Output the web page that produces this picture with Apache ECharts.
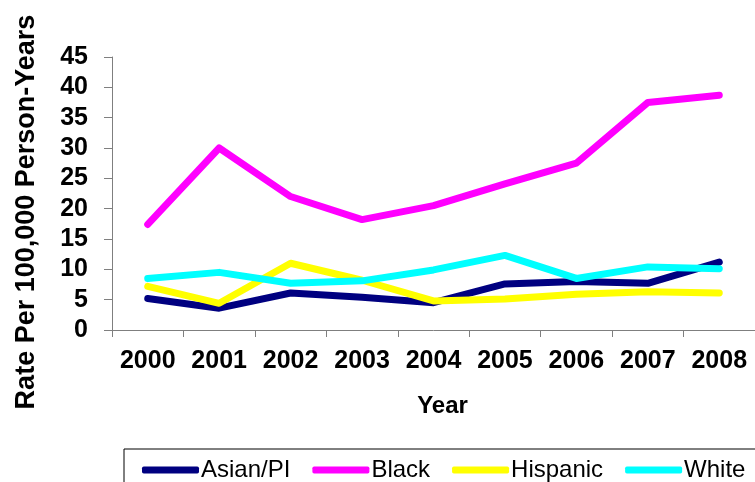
<!DOCTYPE html>
<html>
<head>
<meta charset="utf-8">
<script src="https://cdn.jsdelivr.net/npm/echarts@6/dist/echarts.min.js"></script>
<style>
  html, body { margin: 0; padding: 0; background: #fff; }
  #chart { width: 755px; height: 482px; }
</style>
</head>
<body>
<div id="chart"></div>
<script>
// Rates per 100,000 person-years, by year and race/ethnicity
const years = ['2000', '2001', '2002', '2003', '2004', '2005', '2006', '2007', '2008'];
const asianPI  = [5.2, 3.6, 6.1, 5.4, 4.5, 7.6, 8.0, 7.7, 11.2];
const black    = [17.4, 30.0, 22.0, 18.2, 20.5, 24.1, 27.5, 37.5, 38.7];
const hispanic = [7.2, 4.4, 11.0, 8.2, 4.8, 5.1, 5.9, 6.3, 6.1];
const white    = [8.5, 9.5, 7.7, 8.1, 9.9, 12.3, 8.5, 10.4, 10.1];
const yTicks = { min: 0, max: 45, step: 5 };

const FONT = 'Liberation Sans, Arial, sans-serif';

function lineSeries(name, data, color) {
  return {
    name: name,
    type: 'line',
    data: data,
    symbol: 'none',
    lineStyle: { color: color, width: 7, cap: 'round', join: 'round' },
    itemStyle: { color: color }
  };
}

const chart = echarts.init(document.getElementById('chart'), null, { renderer: 'canvas' });
chart.setOption({
  animation: false,
  backgroundColor: '#ffffff',
  grid: { left: 112, top: 57, width: 649, height: 273, containLabel: false },
  xAxis: {
    type: 'category',
    data: years,
    boundaryGap: true,
    name: 'Year',
    nameLocation: 'middle',
    nameGap: 64,
    nameTextStyle: { fontFamily: FONT, fontWeight: 'bold', fontSize: 24, color: '#000', padding: [0, 0, 0, 18] },
    axisLine: { lineStyle: { color: '#7f7f7f', width: 1 } },
    axisTick: { show: true, alignWithLabel: false, interval: 0, length: 7, lineStyle: { color: '#7f7f7f' } },
    axisLabel: { interval: 0, fontFamily: FONT, fontWeight: 'bold', fontSize: 25, color: '#000', margin: 19 },
    splitLine: { show: false }
  },
  yAxis: {
    type: 'value',
    min: yTicks.min,
    max: yTicks.max,
    interval: yTicks.step,
    name: 'Rate Per 100,000 Person-Years',
    nameLocation: 'middle',
    nameGap: 72,
    nameTextStyle: { fontFamily: FONT, fontWeight: 'bold', fontSize: 27, color: '#000', padding: [0, 37, 0, 0] },
    axisLine: { show: true, lineStyle: { color: '#7f7f7f', width: 1 } },
    axisTick: { show: true, length: 8, lineStyle: { color: '#7f7f7f' } },
    axisLabel: { fontFamily: FONT, fontWeight: 'bold', fontSize: 25, color: '#000', margin: 24 },
    splitLine: { show: false }
  },
  legend: {
    left: 124,
    top: 449,
    width: 800,
    padding: [9, 40, 12, 18],
    borderColor: '#000',
    borderWidth: 1,
    itemWidth: 57,
    itemHeight: 7,
    itemGap: 22,
    icon: 'roundRect',
    textStyle: { fontFamily: FONT, fontSize: 24, color: '#000', padding: [0, 0, 0, -3] },
    data: ['Asian/PI', 'Black', 'Hispanic', 'White']
  },
  series: [
    lineSeries('Asian/PI', asianPI, '#000080'),
    lineSeries('Black', black, '#ff00ff'),
    lineSeries('Hispanic', hispanic, '#ffff00'),
    lineSeries('White', white, '#00ffff')
  ]
});
</script>
</body>
</html>
